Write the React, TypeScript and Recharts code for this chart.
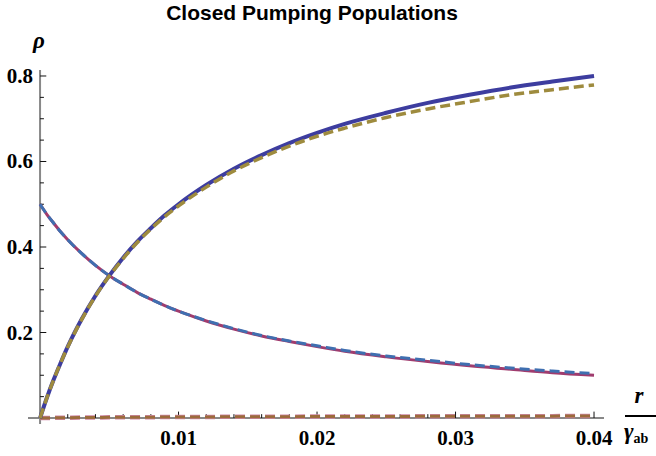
import React from 'react';
import { LineChart, Line, XAxis, YAxis, ReferenceLine } from 'recharts';

// pump rate r / gamma_ab
const rates = [
  0, 0.0005, 0.001, 0.0015, 0.002, 0.003, 0.004, 0.005, 0.006, 0.007, 0.008, 0.009, 0.01,
  0.012, 0.014, 0.016, 0.018, 0.02, 0.022, 0.025, 0.028, 0.031, 0.034, 0.037, 0.04,
];

// upper level population, exact and approximate
const upperExact = [
  0, 0.048, 0.091, 0.13, 0.167, 0.231, 0.286, 0.333, 0.375, 0.412, 0.444, 0.474, 0.5,
  0.545, 0.583, 0.615, 0.643, 0.667, 0.688, 0.714, 0.737, 0.756, 0.773, 0.787, 0.8,
];
const upperApprox = [
  0, 0.048, 0.091, 0.13, 0.166, 0.23, 0.285, 0.332, 0.373, 0.41, 0.442, 0.471, 0.496,
  0.54, 0.578, 0.609, 0.636, 0.659, 0.678, 0.703, 0.723, 0.74, 0.756, 0.768, 0.779,
];

// ground level population, exact and approximate
const groundExact = [
  0.5, 0.476, 0.455, 0.435, 0.417, 0.385, 0.357, 0.333, 0.313, 0.294, 0.278, 0.263, 0.25,
  0.227, 0.208, 0.192, 0.179, 0.167, 0.156, 0.143, 0.132, 0.122, 0.114, 0.106, 0.1,
];
const groundApprox = [
  0.5, 0.476, 0.455, 0.435, 0.417, 0.385, 0.357, 0.333, 0.313, 0.294, 0.278, 0.263, 0.25,
  0.228, 0.209, 0.193, 0.18, 0.169, 0.158, 0.145, 0.135, 0.125, 0.117, 0.11, 0.104,
];

// third level, stays near zero
const thirdExact = [
  0, 0.0002, 0.0004, 0.0006, 0.0008, 0.001, 0.0013, 0.0015, 0.0017, 0.0019, 0.002, 0.0022, 0.0024,
  0.0026, 0.0028, 0.003, 0.0032, 0.0033, 0.0035, 0.0037, 0.0039, 0.0041, 0.0042, 0.0044, 0.0045,
];
const thirdApprox = thirdExact;

const xMajor = [0.01, 0.02, 0.03, 0.04];
const xMinor = [
  0.002, 0.004, 0.006, 0.008, 0.012, 0.014, 0.016, 0.018,
  0.022, 0.024, 0.026, 0.028, 0.032, 0.034, 0.036, 0.038,
];
const yMajor = [0.2, 0.4, 0.6, 0.8];
const yMinor = [0.05, 0.1, 0.15, 0.25, 0.3, 0.35, 0.45, 0.5, 0.55, 0.65, 0.7, 0.75];

const data = rates.map((x, i) => ({
  x,
  upperExact: upperExact[i],
  upperApprox: upperApprox[i],
  groundExact: groundExact[i],
  groundApprox: groundApprox[i],
  thirdExact: thirdExact[i],
  thirdApprox: thirdApprox[i],
}));

const serif = '"Liberation Serif", "Times New Roman", serif';
const tickStyle: React.CSSProperties = {
  fontFamily: serif,
  fontWeight: 700,
  fontSize: 21,
  fill: '#000',
};

const renderXTick = (props: any) => (
  <text key={'xt' + props.payload.value} x={props.x} y={props.y + 21} textAnchor="middle" style={tickStyle}>
    {String(props.payload.value)}
  </text>
);

const renderYTick = (props: any) => (
  <text key={'yt' + props.payload.value} x={33} y={props.y + 7} textAnchor="end" style={tickStyle}>
    {String(props.payload.value)}
  </text>
);

export default function App() {
  return (
    <div style={{ position: 'relative', width: 656, height: 456, background: '#fff' }}>
      <style>{'body{margin:0}'}</style>
      <LineChart
        width={656}
        height={456}
        data={data}
        margin={{ top: 70, right: 52, bottom: 0, left: 0 }}
      >
        <XAxis
          dataKey="x"
          type="number"
          domain={[-0.00087, 0.04072]}
          ticks={xMajor}
          axisLine={false}
          tickLine={false}
          tickSize={0}
          tickMargin={0}
          height={32}
          tick={renderXTick}
          allowDataOverflow
        />
        <YAxis
          type="number"
          domain={[-0.014, 0.814]}
          ticks={yMajor}
          axisLine={false}
          tickLine={false}
          tickSize={0}
          tickMargin={0}
          width={28}
          tick={renderYTick}
          allowDataOverflow
        />

        {/* axes crossing at the origin */}
        <ReferenceLine x={0} stroke="#888" strokeWidth={2} />
        <ReferenceLine y={0} stroke="#888" strokeWidth={2} />

        {xMajor.map((v) => (
          <ReferenceLine key={'xM' + v} segment={[{ x: v, y: 0 }, { x: v, y: 0.015 }]} stroke="#111" ifOverflow="visible" />
        ))}
        {xMinor.map((v) => (
          <ReferenceLine key={'xm' + v} segment={[{ x: v, y: 0 }, { x: v, y: 0.009 }]} stroke="#111" ifOverflow="visible" />
        ))}
        {yMajor.map((v) => (
          <ReferenceLine key={'yM' + v} segment={[{ x: 0, y: v }, { x: 0.00045, y: v }]} stroke="#111" ifOverflow="visible" />
        ))}
        {yMinor.map((v) => (
          <ReferenceLine key={'ym' + v} segment={[{ x: 0, y: v }, { x: 0.00028, y: v }]} stroke="#111" ifOverflow="visible" />
        ))}

        <Line type="monotone" dataKey="thirdApprox" stroke="#cf88a8" strokeWidth={4.5} strokeDasharray="10 5" dot={false} isAnimationActive={false} />
        <Line type="monotone" dataKey="thirdExact" stroke="#9c6b3c" strokeWidth={3} strokeDasharray="10 5" dot={false} isAnimationActive={false} />
        <Line type="monotone" dataKey="groundExact" stroke="#a03c6e" strokeWidth={3} dot={false} isAnimationActive={false} />
        <Line type="monotone" dataKey="groundApprox" stroke="#3f6fb0" strokeWidth={3} strokeDasharray="10 5" dot={false} isAnimationActive={false} />
        <Line type="monotone" dataKey="upperExact" stroke="#3d3d9f" strokeWidth={4} dot={false} isAnimationActive={false} />
        <Line type="monotone" dataKey="upperApprox" stroke="#9e8b3e" strokeWidth={3.5} strokeDasharray="10 5" dot={false} isAnimationActive={false} />
      </LineChart>

      <svg
        width={656}
        height={456}
        style={{ position: 'absolute', left: 0, top: 0, pointerEvents: 'none' }}
      >
        <text x={312} y={20} textAnchor="middle" fontFamily='"Liberation Sans", Arial, sans-serif' fontWeight={700} fontSize={21} fill="#000">
          Closed Pumping Populations
        </text>
        <text x={39} y={48} textAnchor="middle" fontFamily={serif} fontStyle="italic" fontWeight={700} fontSize={23} fill="#000">
          ρ
        </text>
        <text x={639} y={403} textAnchor="middle" fontFamily={serif} fontStyle="italic" fontWeight={700} fontSize={23} fill="#000">
          r
        </text>
        <line x1={625} x2={656} y1={416} y2={416} stroke="#000" strokeWidth={2} />
        <text x={624} y={439} fontFamily={serif} fontWeight={700} fill="#000">
          <tspan fontStyle="italic" fontSize={23}>γ</tspan>
          <tspan fontSize={14} dy={4}>ab</tspan>
        </text>
      </svg>
    </div>
  );
}
